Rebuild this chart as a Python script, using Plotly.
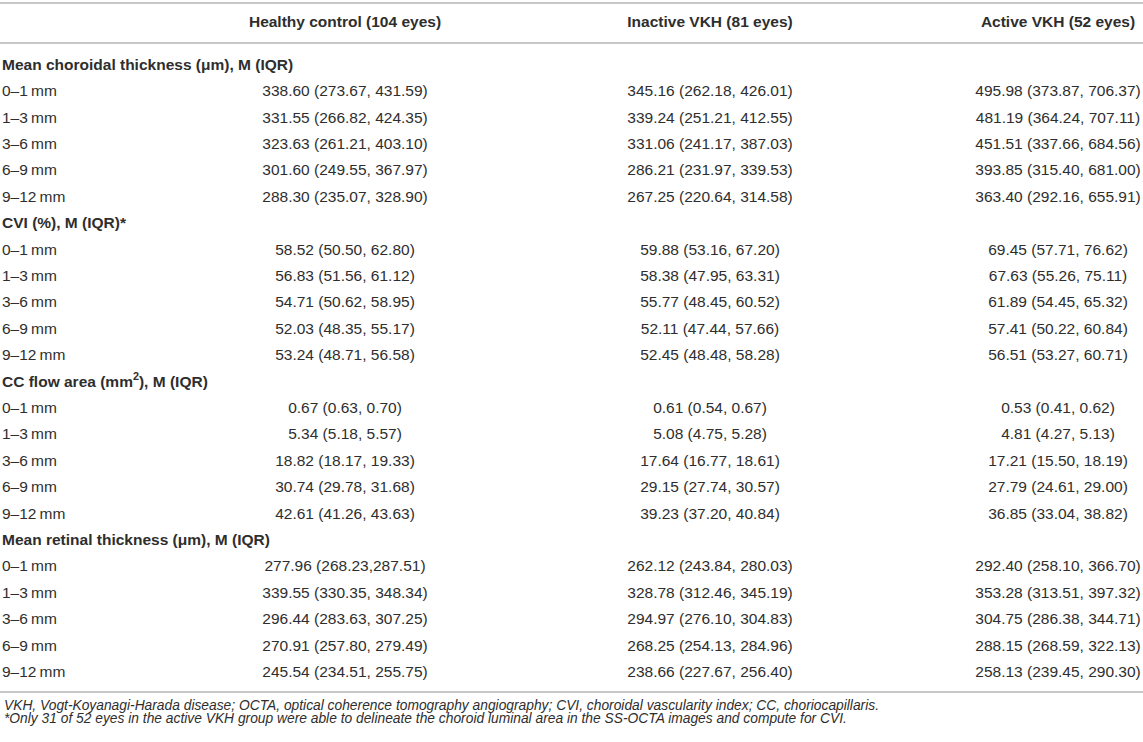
import plotly.graph_objects as go

# column headings
groups = ["Healthy control (104 eyes)", "Inactive VKH (81 eyes)", "Active VKH (52 eyes)"]

# section headings and the five rings of each section
sections = [
    "Mean choroidal thickness (μm), M (IQR)",
    "CVI (%), M (IQR)*",
    "CC flow area (mm<sup>2</sup>), M (IQR)",
    "Mean retinal thickness (μm), M (IQR)",
]
zones = ["0–1\u2009mm", "1–3\u2009mm", "3–6\u2009mm", "6–9\u2009mm", "9–12\u2009mm"]

# median (IQR) per group, section by section
healthy = [
    "338.60 (273.67, 431.59)", "331.55 (266.82, 424.35)", "323.63 (261.21, 403.10)",
    "301.60 (249.55, 367.97)", "288.30 (235.07, 328.90)",
    "58.52 (50.50, 62.80)", "56.83 (51.56, 61.12)", "54.71 (50.62, 58.95)",
    "52.03 (48.35, 55.17)", "53.24 (48.71, 56.58)",
    "0.67 (0.63, 0.70)", "5.34 (5.18, 5.57)", "18.82 (18.17, 19.33)",
    "30.74 (29.78, 31.68)", "42.61 (41.26, 43.63)",
    "277.96 (268.23,287.51)", "339.55 (330.35, 348.34)", "296.44 (283.63, 307.25)",
    "270.91 (257.80, 279.49)", "245.54 (234.51, 255.75)",
]
inactive = [
    "345.16 (262.18, 426.01)", "339.24 (251.21, 412.55)", "331.06 (241.17, 387.03)",
    "286.21 (231.97, 339.53)", "267.25 (220.64, 314.58)",
    "59.88 (53.16, 67.20)", "58.38 (47.95, 63.31)", "55.77 (48.45, 60.52)",
    "52.11 (47.44, 57.66)", "52.45 (48.48, 58.28)",
    "0.61 (0.54, 0.67)", "5.08 (4.75, 5.28)", "17.64 (16.77, 18.61)",
    "29.15 (27.74, 30.57)", "39.23 (37.20, 40.84)",
    "262.12 (243.84, 280.03)", "328.78 (312.46, 345.19)", "294.97 (276.10, 304.83)",
    "268.25 (254.13, 284.96)", "238.66 (227.67, 256.40)",
]
active = [
    "495.98 (373.87, 706.37)", "481.19 (364.24, 707.11)", "451.51 (337.66, 684.56)",
    "393.85 (315.40, 681.00)", "363.40 (292.16, 655.91)",
    "69.45 (57.71, 76.62)", "67.63 (55.26, 75.11)", "61.89 (54.45, 65.32)",
    "57.41 (50.22, 60.84)", "56.51 (53.27, 60.71)",
    "0.53 (0.41, 0.62)", "4.81 (4.27, 5.13)", "17.21 (15.50, 18.19)",
    "27.79 (24.61, 29.00)", "36.85 (33.04, 38.82)",
    "292.40 (258.10, 366.70)", "353.28 (313.51, 397.32)", "304.75 (286.38, 344.71)",
    "288.15 (268.59, 322.13)", "258.13 (239.45, 290.30)",
]

footnotes = [
    "VKH, Vogt-Koyanagi-Harada disease; OCTA, optical coherence tomography angiography; "
    "CVI, choroidal vascularity index; CC, choriocapillaris.",
    "*Only 31 of 52 eyes in the active VKH group were able to delineate the choroid luminal "
    "area in the SS-OCTA images and compute for CVI.",
]

# layout (pixels)
W, H = 1143, 742
FIRST_ROW_PX, ROW_PX = 66, 26.4
col_x = [345, 710, 1058]
TXT = "#2e2e2e"
RULE = "#b4b4b4"
FONT = "Liberation Sans"
FS = 15.5


def to_row(px):
    return (px - FIRST_ROW_PX) / ROW_PX


# build the rows: section heading, then its five rings
labels, rows_y = [], []
data_rows = []
r = 0
for s, sec in enumerate(sections):
    labels.append("<b>" + sec + "</b>")
    rows_y.append(r)
    r += 1
    for z, zone in enumerate(zones):
        labels.append(zone)
        rows_y.append(r)
        data_rows.append((r, s * 5 + z))
        r += 1

fig = go.Figure()

# first column
fig.add_trace(go.Scatter(
    x=[2] * len(labels), y=rows_y, text=labels, mode="text",
    textposition="middle right", textfont=dict(family=FONT, size=FS, color=TXT),
    hoverinfo="skip", showlegend=False,
))

# group columns
for cx, vals in zip(col_x, [healthy, inactive, active]):
    fig.add_trace(go.Scatter(
        x=[cx] * len(data_rows), y=[d[0] for d in data_rows],
        text=[vals[d[1]] for d in data_rows], mode="text",
        textposition="middle center", textfont=dict(family=FONT, size=FS, color=TXT),
        hoverinfo="skip", showlegend=False,
    ))

# header row
fig.add_trace(go.Scatter(
    x=col_x, y=[to_row(23)] * 3, text=["<b>" + g + "</b>" for g in groups], mode="text",
    textposition="middle center", textfont=dict(family=FONT, size=FS, color=TXT),
    hoverinfo="skip", showlegend=False,
))

# horizontal rules
for py in [3, 43, 692]:
    fig.add_shape(type="line", xref="x", yref="y", x0=0, x1=W, y0=to_row(py), y1=to_row(py),
                  line=dict(color=RULE, width=1.6))

# footnotes
for note, py in zip(footnotes, [705, 718]):
    fig.add_annotation(
        x=2, y=to_row(py), xref="x", yref="y", text="<i>" + note + "</i>",
        showarrow=False, xanchor="left", yanchor="middle",
        font=dict(family=FONT, size=13.8, color=TXT),
    )

fig.update_layout(
    width=W, height=H,
    margin=dict(l=0, r=0, t=0, b=0),
    paper_bgcolor="white", plot_bgcolor="white",
    xaxis=dict(range=[0, W], visible=False, fixedrange=True),
    yaxis=dict(range=[to_row(H), to_row(0)], visible=False, fixedrange=True),
)

fig.write_html(
    "out.html",
    config={"displayModeBar": False},
    post_script="document.body.style.margin='0';document.body.style.overflow='hidden';",
)
